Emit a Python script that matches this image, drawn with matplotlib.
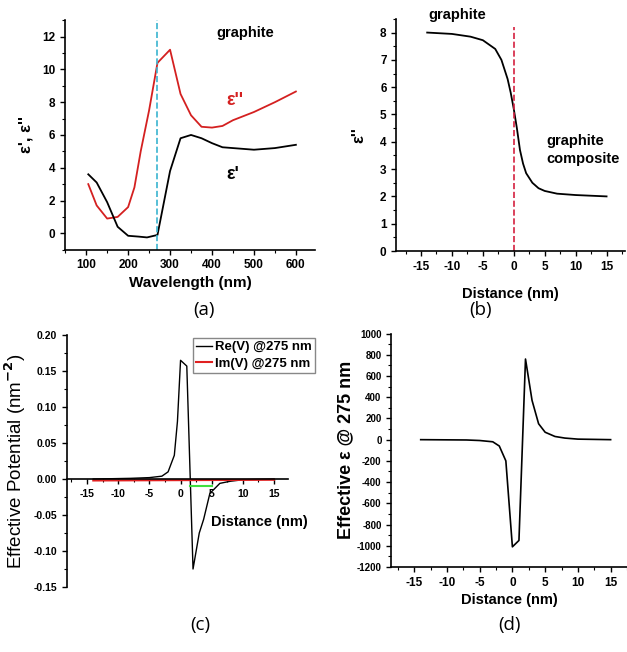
import numpy as np
import matplotlib.pyplot as plt
from matplotlib.ticker import MultipleLocator, AutoMinorLocator

plt.rcParams['font.family'] = ['Liberation Sans', 'DejaVu Sans']
plt.rcParams['font.weight'] = 'bold'
plt.rcParams['axes.labelweight'] = 'bold'
plt.rcParams['axes.unicode_minus'] = False

# (a) permittivity of graphite vs wavelength
wl_im = [105, 125, 150, 175, 200, 215, 230, 250, 270, 300, 325, 350, 375, 400, 425, 450, 500, 550, 600]
eps_im = [3.0, 1.7, 0.9, 1.0, 1.6, 2.8, 5.0, 7.5, 10.4, 11.2, 8.5, 7.2, 6.5, 6.45, 6.55, 6.9, 7.4, 8.0, 8.65]
wl_re = [105, 125, 150, 175, 200, 225, 245, 270, 300, 325, 350, 375, 400, 425, 450, 500, 550, 600]
eps_re = [3.6, 3.1, 1.9, 0.4, -0.15, -0.2, -0.25, -0.1, 3.8, 5.8, 6.0, 5.8, 5.5, 5.25, 5.2, 5.1, 5.2, 5.4]
wl_mark = 270

# (b) epsilon'' profile across the interface
dist_b = [-14, -10, -7, -5, -3, -2, -1, -0.5, 0, 0.5, 1, 1.5, 2, 3, 4, 5, 7, 10, 15]
eps_b = [8.0, 7.95, 7.85, 7.72, 7.4, 7.0, 6.3, 5.8, 5.2, 4.5, 3.7, 3.2, 2.85, 2.5, 2.3, 2.2, 2.1, 2.05, 2.0]

# (c) effective potential
dist_c = [-14, -8, -5, -3, -2, -1, -0.5, 0, 1, 2, 3, 3.7, 4.7, 6.3, 8, 10, 15]
re_v = [0.0, 0.001, 0.002, 0.004, 0.01, 0.033, 0.08, 0.165, 0.157, -0.125, -0.075, -0.056, -0.02, -0.006, -0.003, -0.001, 0.0]
dist_im = [-14, 15]
im_v = [-0.002, -0.001]
green_x = [1.5, 5]
green_y = [-0.01, -0.01]

# (d) effective epsilon
dist_d = [-14, -7, -5, -3, -2, -1, 0, 1, 2, 3, 4, 5, 6.5, 8, 10, 15]
eps_d = [0, -3, -8, -20, -60, -200, -1010, -950, 760, 370, 150, 70, 30, 15, 5, 0]

fig = plt.figure(figsize=(6.27, 6.52), dpi=100)


def style(ax, size=8.5):
    for s in ['top', 'right']:
        ax.spines[s].set_visible(False)
    for s in ['left', 'bottom']:
        ax.spines[s].set_linewidth(1.2)
    ax.tick_params(which='major', direction='out', length=3.5, width=1, labelsize=size)
    ax.tick_params(which='minor', direction='out', length=2, width=0.8)
    ax.xaxis.set_minor_locator(AutoMinorLocator(2))
    ax.yaxis.set_minor_locator(AutoMinorLocator(2))
    for lab in ax.get_xticklabels() + ax.get_yticklabels():
        lab.set_fontweight('bold')


# ---- (a)
ax = fig.add_axes([0.104, 0.617, 0.398, 0.352])
ax.plot(wl_im, eps_im, color='#d42020', lw=1.3)
ax.plot(wl_re, eps_re, color='black', lw=1.3)
ax.axvline(wl_mark, color='#3ab4d0', ls='--', lw=1.2)
ax.set_xlim(50, 645)
ax.set_ylim(-1, 13)
ax.xaxis.set_major_locator(MultipleLocator(100))
ax.yaxis.set_major_locator(MultipleLocator(2))
style(ax)
ax.set_xlabel('Wavelength (nm)', fontsize=11, labelpad=3)
ax.set_ylabel("ε', ε''", fontsize=12, labelpad=6)
ax.text(480, 12.2, 'graphite', fontsize=10.5, ha='center', va='center')
ax.text(455, 8.1, "ε''", fontsize=13, color='#d42020', ha='center', va='center')
ax.text(450, 3.6, "ε'", fontsize=13, color='black', ha='center', va='center')

# ---- (b)
ax = fig.add_axes([0.632, 0.615, 0.365, 0.356])
ax.plot(dist_b, eps_b, color='black', lw=1.3)
ax.plot([0, 0], [0, 8.2], color='#d42040', ls='--', lw=1.2)
ax.set_xlim(-19, 18)
ax.set_ylim(0, 8.5)
ax.xaxis.set_major_locator(MultipleLocator(5))
ax.yaxis.set_major_locator(MultipleLocator(1))
style(ax)
ax.set_xlabel('Distance (nm)', fontsize=10.5, labelpad=10)
ax.set_ylabel("ε''", fontsize=12, labelpad=10)
ax.text(-13.8, 8.65, 'graphite', fontsize=10.5, ha='left', va='center')
ax.text(5.2, 3.7, 'graphite\ncomposite', fontsize=10.5, ha='left', va='center',
        linespacing=1.3)

# ---- (c)
ax = fig.add_axes([0.107, 0.0997, 0.352, 0.3863])
ax.plot(dist_c, re_v, color='black', lw=1.0, label='Re(V) @275 nm')
ax.plot(dist_im, im_v, color='#e02020', lw=1.5, label='Im(V) @275 nm')
ax.plot(green_x, green_y, color='#40e040', lw=1.5)
ax.set_xlim(-18.2, 17.2)
ax.set_ylim(-0.15, 0.2)
ax.spines['bottom'].set_position(('data', 0))
ax.xaxis.set_major_locator(MultipleLocator(5))
ax.yaxis.set_major_locator(MultipleLocator(0.05))
ax.yaxis.set_major_formatter(plt.FuncFormatter(lambda v, p: f'{v:.2f}'))
style(ax, size=7.5)
ax.text(12.6, -0.059, 'Distance (nm)', fontsize=10.5, ha='center', va='center')
ax.set_ylabel('Effective Potential (nm$^{-2}$)', fontsize=13.5, fontweight='normal',
              labelpad=4)
fig.legend(loc='upper left', bbox_to_anchor=(0.297, 0.492), fontsize=9.5,
           handlelength=1.2, handletextpad=0.2, borderpad=0.25, labelspacing=0.3,
           fancybox=False, edgecolor='#888888', framealpha=1,
           handles=ax.get_lines()[:2], prop={'weight': 'bold', 'size': 9.5})

# ---- (d)
ax = fig.add_axes([0.624, 0.1304, 0.376, 0.358])
ax.plot(dist_d, eps_d, color='black', lw=1.2)
ax.set_xlim(-18.5, 17.5)
ax.set_ylim(-1200, 1000)
ax.xaxis.set_major_locator(MultipleLocator(5))
ax.yaxis.set_major_locator(MultipleLocator(200))
style(ax)
ax.tick_params(axis='y', labelsize=7)
ax.set_xlabel('Distance (nm)', fontsize=10.5, labelpad=3)
ax.set_ylabel('Effective ε @ 275 nm', fontsize=13, labelpad=2)

# panel labels
for x, y, s in [(0.326, 0.525, '(a)'), (0.766, 0.525, '(b)'),
                (0.319, 0.041, '(c)'), (0.813, 0.041, '(d)')]:
    fig.text(x, y, s, fontsize=13.5, fontweight='normal', ha='center', va='center',
             family=['Open Sans', 'DejaVu Sans'])

fig.savefig('out.png', dpi=100)
